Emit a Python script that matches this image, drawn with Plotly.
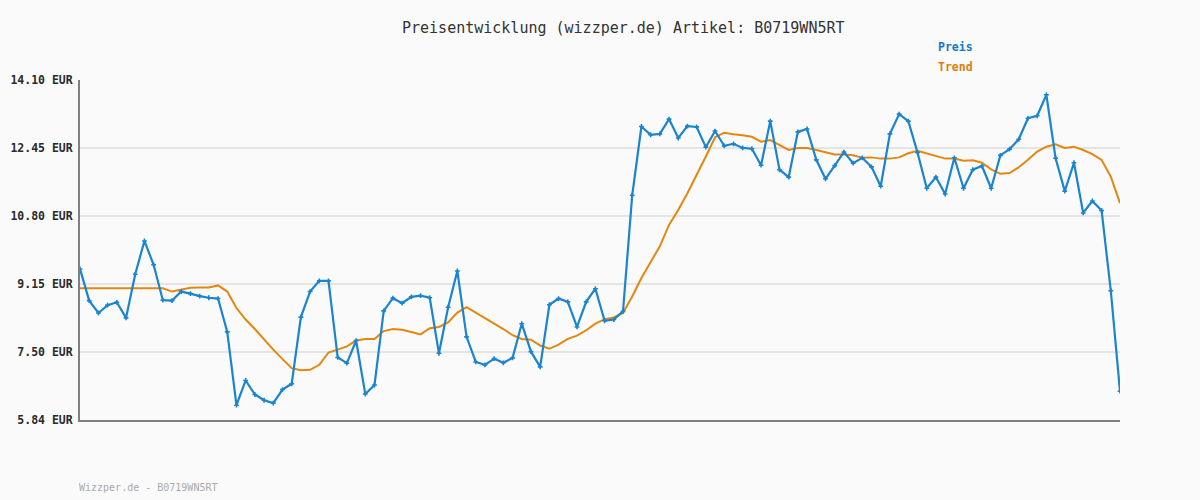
import plotly.graph_objects as go

title_text = "Preisentwicklung (wizzper.de) Artikel: B0719WN5RT"
footer_text = "Wizzper.de - B0719WN5RT"
tick_values = [5.84, 7.50, 9.15, 10.80, 12.45, 14.10]
tick_labels = ["5.84 EUR", "7.50 EUR", "9.15 EUR", "10.80 EUR", "12.45 EUR", "14.10 EUR"]

preis = [
    9.51, 8.74, 8.44, 8.63, 8.70, 8.32, 9.38, 10.19, 9.61, 8.75,
    8.74, 8.96, 8.91, 8.85, 8.81, 8.79, 7.98, 6.20, 6.80, 6.46,
    6.32, 6.25, 6.58, 6.72, 8.34, 8.96, 9.22, 9.22, 7.36, 7.22,
    7.77, 6.47, 6.69, 8.49, 8.80, 8.68, 8.83, 8.86, 8.81, 7.46,
    8.58, 9.46, 7.86, 7.25, 7.18, 7.33, 7.23, 7.35, 8.18, 7.50,
    7.13, 8.64, 8.79, 8.71, 8.10, 8.71, 9.03, 8.25, 8.28, 8.48,
    11.30, 12.97, 12.77, 12.79, 13.15, 12.69, 12.98, 12.96, 12.47, 12.86,
    12.50, 12.55, 12.45, 12.43, 12.03, 13.10, 11.92, 11.74, 12.84, 12.91,
    12.16, 11.70, 12.02, 12.35, 12.08, 12.21, 11.99, 11.52, 12.79, 13.27,
    13.10, 12.34, 11.47, 11.74, 11.33, 12.21, 11.47, 11.92, 12.01, 11.47,
    12.27, 12.42, 12.66, 13.17, 13.23, 13.74, 12.20, 11.40, 12.09, 10.87,
    11.16, 10.93, 8.98, 6.54,
]

trend = [
    9.04, 9.04, 9.04, 9.04, 9.04, 9.04, 9.04, 9.04, 9.04, 9.04,
    8.96, 9.00, 9.05, 9.06, 9.06, 9.11, 8.96, 8.56, 8.28, 8.05,
    7.79, 7.55, 7.32, 7.10, 7.05, 7.06, 7.18, 7.48, 7.55, 7.63,
    7.77, 7.81, 7.81, 8.00, 8.05, 8.03, 7.98, 7.92, 8.07, 8.10,
    8.21, 8.45, 8.58, 8.45, 8.32, 8.18, 8.05, 7.90, 7.81, 7.79,
    7.65, 7.57, 7.67, 7.81, 7.89, 8.02, 8.18, 8.29, 8.33, 8.44,
    8.84, 9.29, 9.69, 10.06, 10.58, 10.94, 11.35, 11.79, 12.24, 12.71,
    12.82, 12.78, 12.76, 12.72, 12.60, 12.64, 12.52, 12.40, 12.45, 12.45,
    12.40, 12.34, 12.29, 12.29, 12.27, 12.21, 12.22, 12.19, 12.19, 12.22,
    12.32, 12.38, 12.32, 12.26, 12.19, 12.19, 12.14, 12.15, 12.09, 11.93,
    11.82, 11.84, 11.98, 12.16, 12.36, 12.48, 12.54, 12.45, 12.48, 12.40,
    12.30, 12.16, 11.75, 11.11,
]

x = list(range(len(preis)))

BLUE = "#1a84d0"
ORANGE = "#e3870f"
MONO = "DejaVu Sans Mono"

W, H = 1200, 500
L, R, T, B = 80, 80, 80, 80
PW, PH = W - L - R, H - T - B


def px(xp):
    return (xp - L) / PW


def py(yp):
    return (H - B - yp) / PH


fig = go.Figure()
fig.add_trace(go.Scatter(
    x=x, y=trend, name="Trend", mode="lines",
    line=dict(color=ORANGE, width=2),
    hoverinfo="skip",
))
fig.add_trace(go.Scatter(
    x=x, y=preis, name="Preis", mode="lines+markers",
    line=dict(color=BLUE, width=2.2),
    marker=dict(symbol="cross", size=4, color=BLUE),
))

fig.update_layout(
    width=W, height=H,
    margin=dict(l=L, r=R, t=T, b=B, autoexpand=False),
    paper_bgcolor="#fafafa", plot_bgcolor="#fafafa",
    showlegend=False,
    font=dict(family=MONO, color="#333333"),
    xaxis=dict(
        range=[0, len(preis) - 1], showgrid=False, zeroline=False,
        showticklabels=False, ticks="", automargin=False,
        showline=True, linecolor="#808080", linewidth=2,
    ),
    yaxis=dict(
        range=[tick_values[0], tick_values[-1]],
        tickvals=tick_values, ticktext=tick_labels,
        tickfont=dict(family=MONO, size=11.5, color="#2a2a2a", weight="bold"),
        ticklabelstandoff=3, automargin=False,
        showgrid=True, gridcolor="#e4e4e4", gridwidth=2,
        zeroline=False, ticks="",
        showline=True, linecolor="#808080", linewidth=2,
    ),
    annotations=[
        dict(text=title_text, x=px(623), y=py(28), xref="paper", yref="paper",
             xanchor="center", yanchor="middle", showarrow=False,
             font=dict(family=MONO, size=15, color="#333333")),
        dict(text="<b>Preis</b>", x=px(936), y=py(47), xref="paper", yref="paper",
             xanchor="left", yanchor="middle", showarrow=False,
             font=dict(family=MONO, size=11.5, color="#0f7acb")),
        dict(text="<b>Trend</b>", x=px(936), y=py(67), xref="paper", yref="paper",
             xanchor="left", yanchor="middle", showarrow=False,
             font=dict(family=MONO, size=11.5, color="#db7f0c")),
        dict(text=footer_text, x=px(80), y=py(487), xref="paper", yref="paper",
             xanchor="left", yanchor="middle", showarrow=False, xshift=-3,
             font=dict(family=MONO, size=10, color="#aaaaaa")),
    ],
)

fig.write_html(
    "out.html",
    config={"displayModeBar": False},
    post_script="document.body.style.margin='0';document.body.style.background='#fafafa';",
)
